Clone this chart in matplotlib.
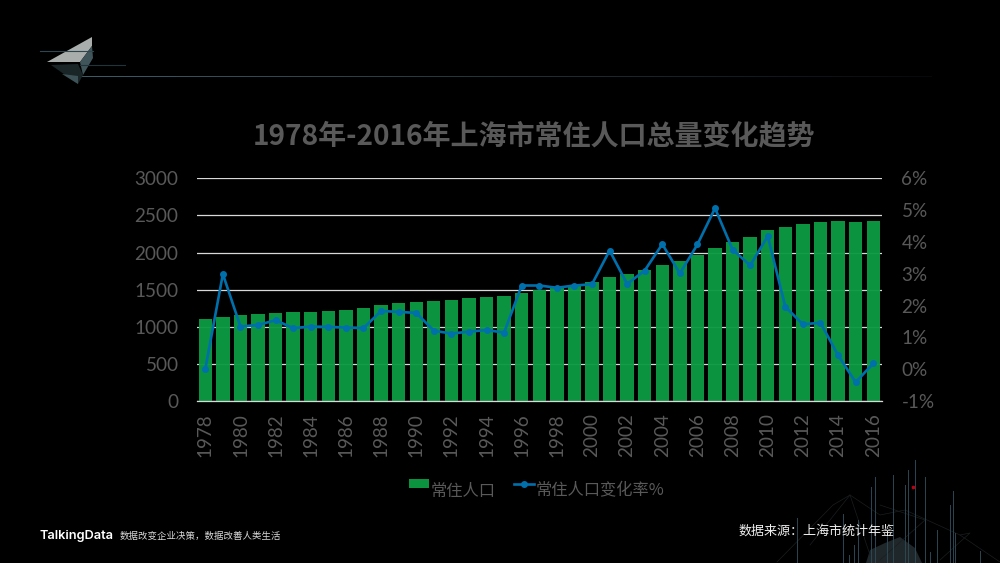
import matplotlib
matplotlib.use("Agg")
from matplotlib import pyplot as plt
from matplotlib.colors import LinearSegmentedColormap
from matplotlib.patches import Polygon
import numpy as np

# 数据
years = list(range(1978, 2017))
population = [1104, 1132, 1152, 1168, 1180, 1194, 1205, 1217, 1232, 1249,
              1288, 1315, 1334, 1350, 1365, 1381, 1400, 1414, 1450, 1489,
              1518, 1549, 1608, 1668, 1712, 1766, 1835, 1890, 1964, 2064,
              2140, 2210, 2303, 2347, 2380, 2415, 2425, 2415, 2420]
change_rate = [0.00, 2.99, 1.34, 1.39, 1.54, 1.29, 1.34, 1.33, 1.31, 1.29,
               1.83, 1.80, 1.77, 1.21, 1.12, 1.18, 1.23, 1.15, 2.63, 2.63,
               2.56, 2.63, 2.67, 3.73, 2.68, 3.10, 3.93, 3.01, 3.92, 5.06,
               3.76, 3.26, 4.18, 1.96, 1.41, 1.46, 0.44, -0.41, 0.18]
left_ticks = [0, 500, 1000, 1500, 2000, 2500, 3000]
right_ticks = [-1, 0, 1, 2, 3, 4, 5, 6]

title = "1978年-2016年上海市常住人口总量变化趋势"
bar_name = "常住人口"
line_name = "常住人口变化率%"
source = "数据来源：上海市统计年鉴"
slogan = "数据改变企业决策，数据改善人类生活"

# 右下角装饰竖线 (x, 上端y)
spikes = [(797, 518), (843, 514), (871, 487), (875, 477), (893, 475), (905, 485),
          (908, 470), (915, 460), (925, 477), (937, 530), (950, 505), (953, 491),
          (955, 533), (980, 551), (930, 552), (887, 535), (858, 520), (854, 545),
          (849, 555)]
net_lines = [[(777, 562), (833, 505), (850, 495), (880, 515), (905, 510), (960, 535), (1000, 562)],
             [(850, 495), (870, 555)], [(880, 505), (925, 520), (880, 560)],
             [(960, 535), (970, 533), (940, 560)], [(810, 545), (850, 495)]]

BG = "#000000"
GRAY = "#595959"
CJK = ["Noto Sans CJK SC", "DejaVu Sans"]

plt.rcParams["font.family"] = ["Lato", "Noto Sans CJK SC", "DejaVu Sans"]

fig = plt.figure(figsize=(10, 5.63), dpi=100, facecolor=BG)

# 装饰层，坐标用像素
deco = fig.add_axes([0, 0, 1, 1], zorder=0)
teal = LinearSegmentedColormap.from_list("teal", ["#000000", "#3d5c69"])
deco.imshow(np.linspace(1, 0.1, 300)[None, :], extent=(70, 932, 76.6, 75.6), aspect="auto",
            cmap=teal, vmin=0, vmax=1)
deco.set_xlim(0, 1000)
deco.set_ylim(563, 0)
deco.axis("off")
deco.plot([40, 93], [50.5, 50.5], color="#2e4650", lw=0.8)
deco.plot([80, 125], [64.5, 64.5], color="#22343b", lw=0.8)
deco.add_patch(Polygon([(47, 62), (92, 37), (92, 46), (80, 62)], fc="#a9aeac", ec="none"))
deco.add_patch(Polygon([(80, 62), (92, 46), (93, 58), (83, 75)], fc="#40555a", ec="none"))
deco.add_patch(Polygon([(51, 65), (78, 64), (83, 75), (78, 84)], fc="#1a2528", ec="none"))
deco.add_patch(Polygon([(62, 74), (78, 76), (78, 84)], fc="#3d5256", ec="none"))
for seg in net_lines:
    deco.plot(*zip(*seg), color="#1a1d1f", lw=0.5)
deco.add_patch(Polygon([(866, 563), (870, 550), (885, 543), (900, 537), (915, 548), (922, 563)],
                       fc="#1f272b", ec="none"))
for x, top in spikes:
    deco.plot([x, x], [top, 563], color="#2c4653", lw=0.7)
deco.plot([912.5], [486.5], marker="o", ms=1.6, color="#c00010")
deco.text(40, 535.5, "TalkingData", color="white", fontsize=9.2, fontweight="semibold",
          family=["Inter", "DejaVu Sans"], va="center", ha="left")
deco.text(120, 536, slogan, color="#d8d8d8", fontsize=6.8, family=CJK, va="center", ha="left")
deco.text(739, 531.5, source, color="#eeeeee", fontsize=9.4, family=CJK, va="center", ha="left")

# 主图
ax = fig.add_axes([0.1965, 1 - 401 / 563, 0.6855, 222.7 / 563], zorder=1)
ax.patch.set_alpha(0)
x = np.arange(len(years))
ax.set_axisbelow(True)
ax.yaxis.grid(True, color="#d9d9d9", lw=0.9)
bars = ax.bar(x, population, width=0.76, color="#0c9a42", alpha=0.96, label=bar_name)
ax.set_xlim(-0.5, len(years) - 0.5)
ax.set_ylim(0, 3000)
ax.set_yticks(left_ticks)
ax.set_xticks(x[::2])
ax.set_xticklabels(years[::2], rotation=90)
ax.tick_params(axis="both", length=0, labelsize=13.6, labelcolor=GRAY)
ax.tick_params(axis="x", pad=9)
ax.tick_params(axis="y", pad=13)
for s in ax.spines.values():
    s.set_visible(False)
ax.spines["bottom"].set_visible(True)
ax.spines["bottom"].set_color("#d9d9d9")
ax.spines["bottom"].set_linewidth(0.9)

ax2 = ax.twinx()
line, = ax2.plot(x, change_rate, color="#0070ad", lw=1.9, marker="o", ms=4, label=line_name)
ax2.set_ylim(-1, 6)
ax2.set_yticks(right_ticks)
ax2.set_yticklabels([f"{v}%" for v in right_ticks])
ax2.tick_params(axis="y", length=0, labelsize=13.6, labelcolor=GRAY, pad=14)
for s in ax2.spines.values():
    s.set_visible(False)

fig.text(0.534, 1 - 137 / 563, title, color=GRAY, fontsize=20.2, fontweight="bold",
         family=CJK, ha="center", va="center")

leg = fig.legend(handles=[bars, line], loc="center", bbox_to_anchor=(0.5365, 1 - 485 / 563),
                 ncols=2, frameon=False, prop={"family": CJK, "size": 11.7},
                 labelcolor=GRAY, handlelength=1.25, handleheight=0.5,
                 handletextpad=0.1, columnspacing=1.1)
for t in leg.get_texts():
    t.set_y(-6)

fig.savefig("out.png", dpi=100, facecolor=BG)
